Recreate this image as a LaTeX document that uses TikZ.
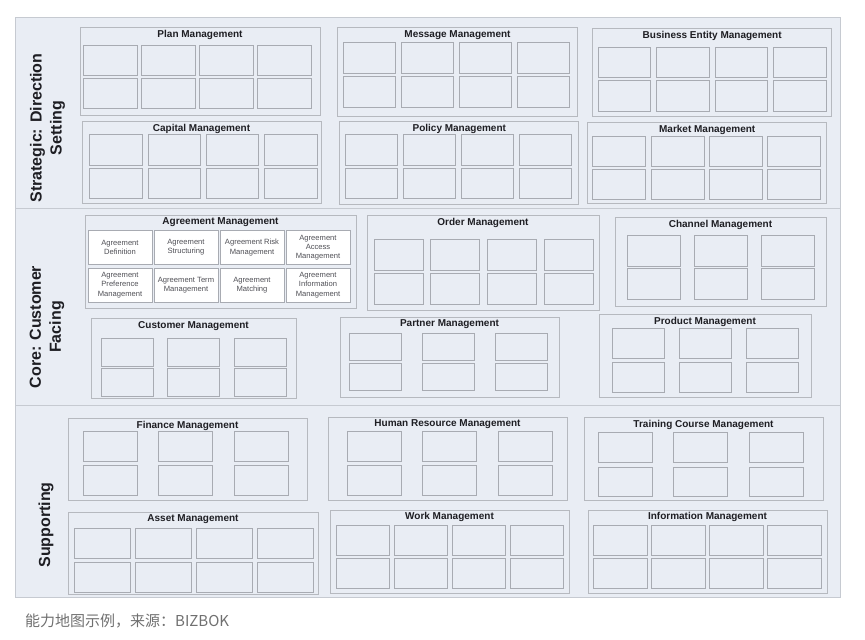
\documentclass[tikz,border=0pt]{standalone}
\usepackage{fontspec}
\setmainfont{Liberation Sans}
\newfontfamily\cjk{Noto Sans CJK SC}
\usepackage{xcolor}
\usepackage{tikz}
\usetikzlibrary{positioning}

\definecolor{mapbg}{RGB}{233,237,244}
\definecolor{bandline}{RGB}{198,202,209}
\definecolor{boxline}{RGB}{182,185,191}
\definecolor{cellline}{RGB}{168,171,178}
\definecolor{titletext}{RGB}{30,30,35}
\definecolor{agtext}{RGB}{80,80,86}
\definecolor{captext}{RGB}{112,112,112}

% two rows of empty cells: name, first centre x, column step, columns, first centre y, row step, width, height
\newcommand{\cellgrid}[8]{%
  \foreach \c in {1,...,#4}
    \foreach \r in {1,2}
      \node[cell, minimum width=#7pt, minimum height=#8pt] (#1-\r-\c) at ({#2+(\c-1)*#3},{#5+(\r-1)*#6}) {};
}

\begin{document}
\begin{tikzpicture}[x=1pt, y=-1pt,
  band/.style={draw=bandline, fill=mapbg, line width=0.7pt},
  capbox/.style={draw=boxline, line width=0.7pt, inner sep=0pt},
  captitle/.style={text=titletext, inner sep=1pt, font=\fontsize{10}{12}\selectfont\bfseries},
  cell/.style={draw=cellline, line width=1pt, inner sep=0pt},
  agcell/.style={cell, fill=white, align=center, text=agtext, minimum width=64pt, minimum height=34pt, font=\fontsize{7.6}{9.2}\selectfont},
  layer/.style={rotate=90, align=center, text=titletext, font=\fontsize{16}{20}\selectfont\bfseries}]
\useasboundingbox (0,0) rectangle (865,640);

% bands
\draw[band] (15,17) rectangle (840,208);
\draw[band] (15,208) rectangle (840,405);
\draw[band] (15,405) rectangle (840,597);
\node[layer] (strategic) at (47.5,128) {Strategic: Direction\\Setting};
\node[layer] (core) at (47,327) {Core: Customer\\Facing};
\node[layer] (supporting) at (46,525) {Supporting};

% strategic: direction setting
\node[capbox, minimum width=240pt, minimum height=88pt] (plan) at (200,71) {};
\node[captitle, below=2.5pt of plan.north] (plan-t) {Plan Management};
\cellgrid{plan}{110}{58.3}{4}{60}{33}{54}{30}
\node[capbox, minimum width=240pt, minimum height=89pt] (msg) at (457.5,71.5) {};
\node[captitle, below=2.5pt of msg.north] (msg-t) {Message Management};
\cellgrid{msg}{369.6}{58}{4}{58}{33.5}{52}{31}
\node[capbox, minimum width=239pt, minimum height=88pt] (bem) at (712.2,72) {};
\node[captitle, below=2.5pt of bem.north] (bem-t) {Business Entity Management};
\cellgrid{bem}{624.5}{58.5}{4}{62.5}{33.5}{52.5}{30.5}
\node[capbox, minimum width=239pt, minimum height=82pt] (cap) at (201.5,162) {};
\node[captitle, below=2.5pt of cap.north] (cap-t) {Capital Management};
\cellgrid{cap}{116}{58.3}{4}{150}{33.5}{52.5}{30.5}
\node[capbox, minimum width=239pt, minimum height=83pt] (pol) at (459.3,162.5) {};
\node[captitle, below=2.5pt of pol.north] (pol-t) {Policy Management};
\cellgrid{pol}{371.3}{58}{4}{150}{33.5}{52.5}{30.5}
\node[capbox, minimum width=239pt, minimum height=81pt] (mkt) at (707.2,162.5) {};
\node[captitle, below=2.5pt of mkt.north] (mkt-t) {Market Management};
\cellgrid{mkt}{619.3}{58.3}{4}{151}{33.5}{53}{30}

% core: customer facing
\node[capbox, minimum width=271pt, minimum height=93pt] (agr) at (220.5,261.5) {};
\node[captitle, below=2pt of agr.north] (agr-t) {Agreement Management};
\node[agcell] (agr-1) at (120,247.5) {Agreement\\Definition};
\node[agcell] (agr-2) at (186,247.5) {Agreement\\Structuring};
\node[agcell] (agr-3) at (252,247.5) {Agreement Risk\\Management};
\node[agcell] (agr-4) at (318,247.5) {Agreement\\Access\\Management};
\node[agcell] (agr-5) at (120,285) {Agreement\\Preference\\Management};
\node[agcell] (agr-6) at (186,285) {Agreement Term\\Management};
\node[agcell] (agr-7) at (252,285) {Agreement\\Matching};
\node[agcell] (agr-8) at (318,285) {Agreement\\Information\\Management};
\node[capbox, minimum width=232pt, minimum height=95pt] (ord) at (483,262.5) {};
\node[captitle, below=2pt of ord.north] (ord-t) {Order Management};
\cellgrid{ord}{398.5}{56.7}{4}{254.5}{34}{49}{31}
\node[capbox, minimum width=211pt, minimum height=89pt] (chn) at (720.5,261.5) {};
\node[captitle, below=2pt of chn.north] (chn-t) {Channel Management};
\cellgrid{chn}{653.5}{67}{3}{250.5}{33}{53}{31}
\node[capbox, minimum width=205pt, minimum height=80pt] (cus) at (193.5,358) {};
\node[captitle, below=2.5pt of cus.north] (cus-t) {Customer Management};
\cellgrid{cus}{127}{66.5}{3}{352.5}{29.5}{52}{28}
\node[capbox, minimum width=219pt, minimum height=80pt] (ptn) at (449.5,357) {};
\node[captitle, below=2pt of ptn.north] (ptn-t) {Partner Management};
\cellgrid{ptn}{375}{73}{3}{347}{29.5}{52}{27}
\node[capbox, minimum width=212pt, minimum height=83pt] (prd) at (705,355.5) {};
\node[captitle, below=2pt of prd.north] (prd-t) {Product Management};
\cellgrid{prd}{638}{67}{3}{343}{34}{52}{30}

% supporting
\node[capbox, minimum width=239pt, minimum height=82pt] (fin) at (187.5,459) {};
\node[captitle, below=2pt of fin.north] (fin-t) {Finance Management};
\cellgrid{fin}{110}{75.5}{3}{446}{34}{54}{30}
\node[capbox, minimum width=239pt, minimum height=83pt] (hrm) at (447.5,458.5) {};
\node[captitle, below=2pt of hrm.north] (hrm-t) {Human Resource Management};
\cellgrid{hrm}{374}{75.5}{3}{446}{34}{54}{30}
\node[capbox, minimum width=239pt, minimum height=83pt] (trn) at (703.5,458.5) {};
\node[captitle, below=2pt of trn.north] (trn-t) {Training Course Management};
\cellgrid{trn}{625}{75.5}{3}{447.5}{34.5}{54}{29.5}
\node[capbox, minimum width=250pt, minimum height=82pt] (ast) at (193,553) {};
\node[captitle, below=1.5pt of ast.north] (ast-t) {Asset Management};
\cellgrid{ast}{102}{61.3}{4}{543}{34}{56}{30}
\node[capbox, minimum width=239pt, minimum height=83pt] (wrk) at (449.5,551.5) {};
\node[captitle, below=1.5pt of wrk.north] (wrk-t) {Work Management};
\cellgrid{wrk}{362.5}{58.3}{4}{540}{33}{53}{30}
\node[capbox, minimum width=239pt, minimum height=83pt] (inf) at (707.5,551.5) {};
\node[captitle, below=1.5pt of inf.north] (inf-t) {Information Management};
\cellgrid{inf}{620}{58.3}{4}{540}{33}{54}{30}

\node[anchor=west, inner sep=0pt, text=captext, font=\cjk\fontsize{15}{18}\selectfont] (caption) at (25,621) {能力地图示例，来源：BIZBOK};
\end{tikzpicture}
\end{document}
